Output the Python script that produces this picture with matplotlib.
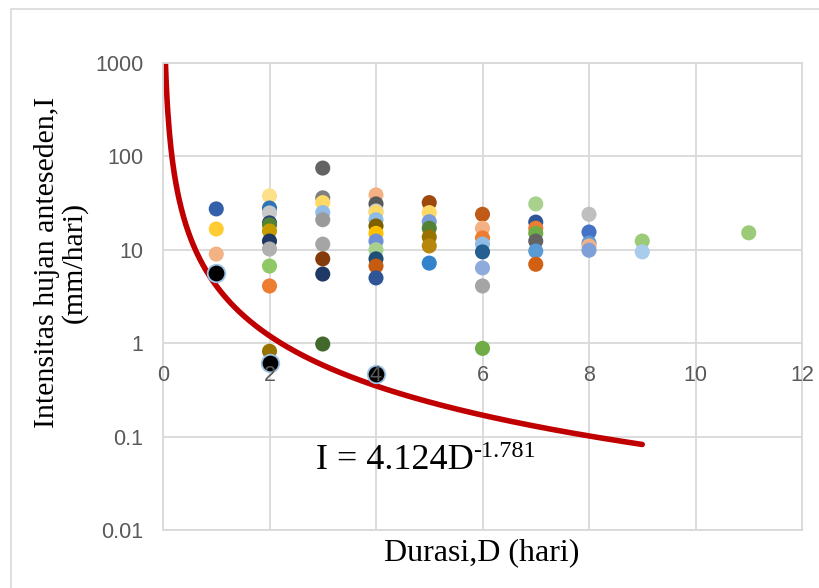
import numpy as np
import matplotlib.pyplot as plt
from matplotlib.patches import Rectangle
from matplotlib.transforms import offset_copy

# data: duration (days) vs antecedent rainfall intensity (mm/day)
durasi = [1, 1, 1,
          2, 2, 2, 2, 2, 2, 2, 2, 2, 2, 2,
          3, 3, 3, 3, 3, 3, 3, 3, 3,
          4, 4, 4, 4, 4, 4, 4, 4, 4, 4, 4, 4,
          5, 5, 5, 5, 5, 5, 5,
          6, 6, 6, 6, 6, 6, 6, 6,
          7, 7, 7, 7, 7, 7, 7,
          8, 8, 8, 8, 8,
          9, 9, 11]
intensitas = [27.4, 16.7, 9.0,
              37.8, 28.0, 24.8, 19.4, 18.5, 15.9, 12.4, 10.2, 6.7, 4.1, 0.82,
              75.0, 36.0, 32.0, 25.0, 21.0, 11.5, 8.0, 5.5, 0.98,
              38.7, 31.0, 26.0, 25.0, 21.0, 18.0, 15.0, 12.4, 10.0, 8.0, 6.7, 5.0,
              32.0, 25.0, 20.0, 17.0, 13.7, 11.0, 7.2,
              24.0, 17.0, 13.4, 11.5, 9.5, 6.4, 4.1, 0.88,
              31.0, 19.8, 17.0, 15.0, 12.4, 9.7, 7.0,
              24.0, 15.5, 11.8, 11.0, 9.9,
              12.4, 9.5, 15.2]
warna = ['#3360A8', '#FFCC33', '#F4B183',
         '#FFE08A', '#2E75B6', '#C9C9C9', '#264478', '#548235', '#C89B00', '#1F3864', '#B0B0B0', '#8FC965', '#ED7D31', '#997300',
         '#636363', '#7F7F7F', '#FFD966', '#8FBCE6', '#9A9A9A', '#A5A5A5', '#843C0C', '#203864', '#43682B',
         '#F4B183', '#595959', '#D0CECE', '#FFD966', '#8FBCE6', '#7F6000', '#FFC000', '#6F8FD6', '#A9D18E', '#1F4E79', '#C55A11', '#2F5597',
         '#9E480E', '#FFD966', '#7A9CD9', '#548235', '#997300', '#B8860B', '#3382CC',
         '#BF5B16', '#F4B183', '#ED7D31', '#8FBCE6', '#255E91', '#8FAADC', '#A5A5A5', '#70AD47',
         '#A9D18E', '#2F5597', '#ED7D31', '#70AD47', '#636363', '#5B9BD5', '#D26012',
         '#BFBFBF', '#4472C4', '#5B9BD5', '#F4B183', '#7F9FD9',
         '#9BCB76', '#A9CCED', '#9BCB76']

# black highlighted points
durasi_hitam = [1, 2, 4]
intensitas_hitam = [5.6, 0.61, 0.47]

# fitted threshold curve I = a * D^b
a_fit = 4.124
b_fit = -1.781

x_ticks = [0, 2, 4, 6, 8, 10, 12]
y_ticks = [0.01, 0.1, 1, 10, 100, 1000]
y_ticklabels = ['0.01', '0.1', '1', '10', '100', '1000']

grid_col = '#D9D9D9'
label_col = '#595959'

fig = plt.figure(figsize=(8.19, 5.88), dpi=100)
ax = fig.add_axes([163 / 819, 1 - 530 / 588, (802 - 163) / 819, (530 - 63) / 588])

# chart area border
fig.patches.append(Rectangle((11 / 819, -0.1), 1.2, 1.1 - 9 / 588, transform=fig.transFigure,
                             fill=False, edgecolor=grid_col, lw=1.2))

ax.set_yscale('log')
ax.set_xlim(0, 12)
ax.set_ylim(0.01, 1000)
ax.set_xticks(x_ticks)
ax.set_yticks(y_ticks)
ax.set_yticklabels(y_ticklabels)
ax.minorticks_off()
ax.grid(True, color=grid_col, lw=1.3, zorder=0)
ax.set_axisbelow(True)
for s in ax.spines.values():
    s.set_color(grid_col)
    s.set_linewidth(1.3)
ax.tick_params(axis='x', length=0, labelbottom=False)
ax.tick_params(axis='y', length=0, pad=14, labelsize=15.5, labelcolor=label_col)
for lab in ax.get_yticklabels():
    lab.set_fontfamily('Liberation Sans')

# curve
D = np.linspace(0.045, 9, 600)
ax.plot(D, a_fit * D ** b_fit, color='#C00000', lw=4, solid_capstyle='round', zorder=2)

ax.scatter(durasi, intensitas, s=118, c=warna, edgecolors='none', zorder=3)
ax.scatter(durasi_hitam, intensitas_hitam, s=160, c='black', edgecolors='#9DC3E6', linewidths=1.3, zorder=3)

# x tick labels sit under the y=1 line, drawn above the markers
trans = offset_copy(ax.transData, fig=fig, y=-32, units='dots')
for xt in x_ticks:
    ax.text(xt, 1, str(xt), transform=trans, ha='center', va='center', fontsize=15.5,
            color=label_col, family='Liberation Sans', zorder=5, clip_on=False)

# trendline equation
fig.text(316 / 819, 1 - 469 / 588, 'I = 4.124D', ha='left', va='baseline',
         fontsize=26, family='Liberation Serif')
fig.text(473 / 819, 1 - 457 / 588, '-1.781', ha='left', va='baseline',
         fontsize=17.5, family='Liberation Serif')

fig.text(482 / 819, 1 - 553 / 588, 'Durasi,D (hari)', ha='center', va='center',
         fontsize=23, family='Liberation Serif')
fig.text(61 / 819, 1 - 262 / 588, 'Intensitas hujan anteseden,I\n(mm/hari)', ha='center', va='center',
         rotation=90, fontsize=21.5, family='Liberation Serif', linespacing=1.05)

fig.savefig('out.png', dpi=100)
